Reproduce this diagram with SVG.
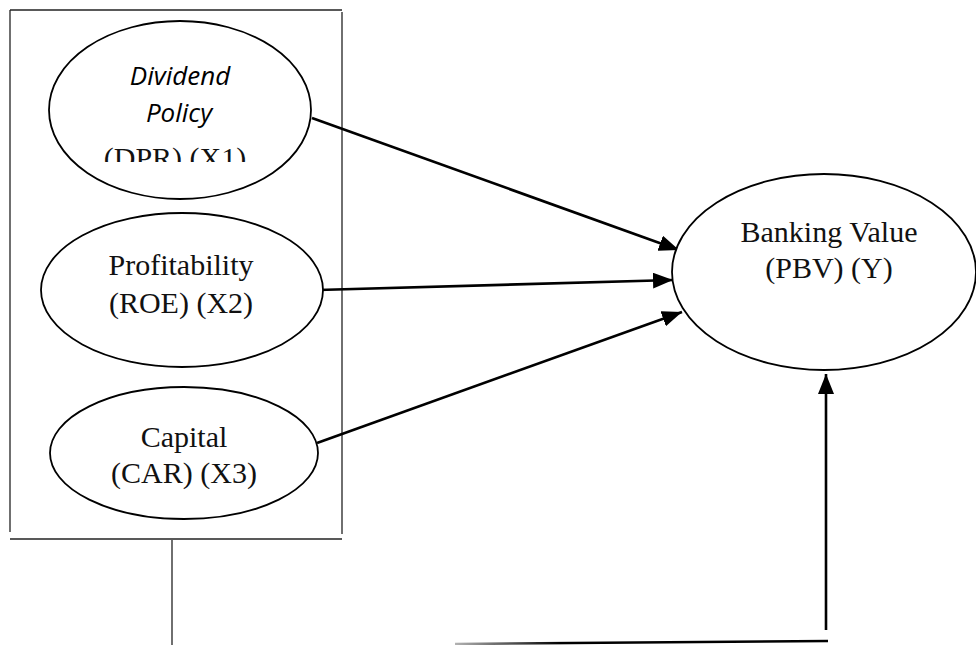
<svg xmlns="http://www.w3.org/2000/svg" width="976" height="645" viewBox="0 0 976 645">
<defs>
<style>
.frame{stroke:#222;stroke-width:1.3;fill:none}
.node{fill:#fff;stroke:#000;stroke-width:1.8}
.conn{stroke:#000;stroke-width:2.6;fill:none}
.t{font-family:"Liberation Serif","Times New Roman",serif;font-size:30px;fill:#111;text-anchor:middle}
.ti{font-family:"Open Sans","Noto Sans",sans-serif;font-style:italic;font-size:26px;fill:#000;text-anchor:middle}
</style>
<marker id="ah" markerUnits="userSpaceOnUse" markerWidth="22" markerHeight="16" refX="20" refY="8" orient="auto">
<path d="M0,0 L20,8 L0,16 Z" fill="#000"/>
</marker>
<linearGradient id="fade" x1="455" y1="0" x2="560" y2="0" gradientUnits="userSpaceOnUse">
<stop offset="0" stop-color="#000" stop-opacity="0.3"/>
<stop offset="1" stop-color="#000" stop-opacity="1"/>
</linearGradient>
<clipPath id="c1"><rect x="0" y="0" width="400" height="162"/></clipPath>
</defs>
<rect width="976" height="645" fill="#fff"/>
<g id="frame">
<line class="frame" x1="10" y1="10" x2="342" y2="10"/>
<line class="frame" x1="10" y1="10" x2="10" y2="532"/>
<line class="frame" x1="342" y1="12" x2="342" y2="534"/>
<line class="frame" x1="10" y1="539" x2="342" y2="539"/>
<line class="frame" x1="172" y1="540" x2="172" y2="645"/>
</g>
<g id="connectors">
<line class="conn" x1="312" y1="118" x2="679" y2="250" marker-end="url(#ah)"/>
<line class="conn" x1="318" y1="290" x2="673" y2="280" marker-end="url(#ah)"/>
<line class="conn" x1="317" y1="443" x2="682" y2="312" marker-end="url(#ah)"/>
<path d="M455,644 L828,641" stroke="url(#fade)" stroke-width="2.6" fill="none"/>
<line class="conn" x1="826" y1="630" x2="826" y2="374" marker-end="url(#ah)"/>
</g>
<g id="x1">
<ellipse class="node" cx="180" cy="110" rx="131" ry="89"/>
<text class="ti" x="180" y="85">Dividend</text>
<text class="ti" x="179" y="122">Policy</text>
<text class="t" x="175" y="168" clip-path="url(#c1)">(DPR) (X1)</text>
</g>
<g id="x2">
<ellipse class="node" cx="182" cy="290" rx="141" ry="77"/>
<text class="t" x="181" y="275">Profitability</text>
<text class="t" x="181" y="313">(ROE) (X2)</text>
</g>
<g id="x3">
<ellipse class="node" cx="184" cy="453" rx="134" ry="66"/>
<text class="t" x="184" y="447">Capital</text>
<text class="t" x="184" y="483">(CAR) (X3)</text>
</g>
<g id="y">
<ellipse class="node" cx="824" cy="272" rx="152" ry="98"/>
<text class="t" x="829" y="242">Banking Value</text>
<text class="t" x="829" y="278">(PBV) (Y)</text>
</g>
</svg>
